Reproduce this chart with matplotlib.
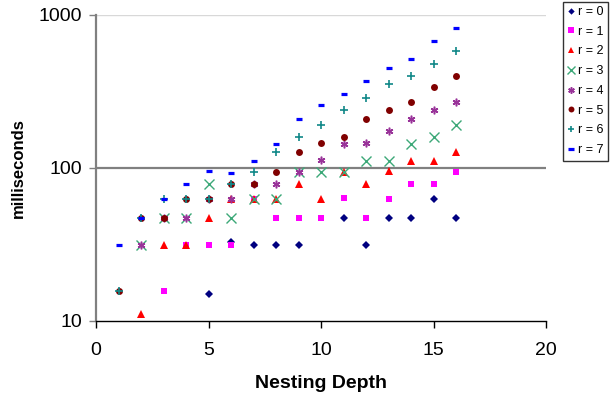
import numpy as np
import matplotlib
matplotlib.use("Agg")
import matplotlib.pyplot as plt

plt.rcParams['font.family'] = ['Liberation Sans', 'DejaVu Sans']

nan = np.nan
depth = list(range(1, 17))

r0 = [nan, nan, nan, nan, 15.0, 32.5, 31.25, 31.25, 31.25, nan, 46.9, 31.25, 46.9, 46.9, 62.5, 46.9]
r1 = [nan, nan, 15.6, 31.25, 31.25, 31.25, 62.5, 46.9, 46.9, 46.9, 63.5, 46.9, 62.5, 78.1, 78.1, 93.7]
r2 = [nan, 11.0, 31.25, 31.25, 46.9, 62.5, 62.5, 62.5, 78.1, 62.5, 93.7, 78.1, 94.5, 111, 111, 127]
r3 = [nan, 31.25, 46.9, 46.9, 78.1, 46.9, 62.5, 62.5, 93.7, 93.7, 93.7, 111, 111, 142, 158, 190]
r4 = [nan, 31.25, 46.9, 46.9, 62.5, 62.5, 78.1, 78.1, 93.7, 112, 143, 144, 174, 207, 238, 270]
r5 = [15.6, 46.9, 46.9, 62.5, 62.5, 78.1, 78.1, 93.7, 127, 144, 159, 207, 238, 270, 335, 399]
r6 = [15.6, 46.9, 62.5, 62.5, 62.5, 78.1, 93.7, 126, 158, 190, 239, 287, 351, 398, 476, 578]
r7 = [31.25, 46.9, 62.5, 78.1, 94.5, 93.0, 110, 142, 207, 255, 304, 366, 447, 512, 673, 815]

series = [r0, r1, r2, r3, r4, r5, r6, r7]
labels = ["r = 0", "r = 1", "r = 2", "r = 3", "r = 4", "r = 5", "r = 6", "r = 7"]

styles = [
    dict(marker='D', color='#000080', ms=3.8, mew=0),
    dict(marker='s', color='#FF00FF', ms=4.4, mew=0),
    dict(marker='^', color='#FF0000', ms=5.8, mew=0),
    dict(marker='x', color='#3CA878', ms=6.5, mew=1.0),
    dict(marker=(6, 2, 0), color='#993399', ms=5.5, mew=1.1),
    dict(marker='o', color='#800000', ms=5.0, mew=0),
    dict(marker='+', color='#108888', ms=5.8, mew=1.2),
    dict(marker='_', color='#0000FF', ms=4.3, mew=2.3),
]

fig = plt.figure(figsize=(6.10, 4.03), dpi=100)
ax = fig.add_axes([96/610, 1 - 320.7/403, (546-96)/610, (320.7-14.7)/403])

ax.axhline(1000, color='#d8d8d8', lw=1.0, zorder=1)
ax.axhline(100, color='#808080', lw=1.6, zorder=1)

handles = []
for vals, lab, st in zip(series, labels, styles):
    h, = ax.plot(depth, vals, linestyle='none', marker=st['marker'], color=st['color'],
                 markersize=st['ms'], markeredgewidth=st['mew'], label=lab, zorder=3,
                 clip_on=False)
    handles.append(h)

ax.set_yscale('log')
ax.set_ylim(10, 1000)
ax.set_xlim(0, 20)
ax.set_xticks([0, 5, 10, 15, 20])
ax.set_yticks([10, 100, 1000])
ax.set_yticklabels(['10', '100', '1000'])
ax.yaxis.set_minor_locator(matplotlib.ticker.NullLocator())

for s in ['top', 'right']:
    ax.spines[s].set_visible(False)
ax.spines['left'].set_color('#808080')
ax.spines['left'].set_linewidth(1.6)
ax.spines['bottom'].set_color('black')
ax.spines['bottom'].set_linewidth(1.0)

ax.tick_params(axis='y', direction='out', length=5, width=1, colors='#808080',
               labelcolor='black', labelsize=14, pad=5)
ax.tick_params(axis='x', direction='out', length=5, width=1, colors='black',
               labelsize=14, pad=10)

ax.set_xlabel('Nesting Depth', fontsize=14, fontweight='bold', labelpad=12)
ax.set_ylabel('milliseconds', fontsize=12, fontweight='bold', labelpad=9)

leg = fig.legend(handles=handles, labels=labels, loc='upper left',
                 bbox_to_anchor=(563/610, 1 - 1.5/403), fontsize=9,
                 frameon=True, fancybox=False, edgecolor='black',
                 borderpad=0.35, labelspacing=0.62, handlelength=0.6,
                 handletextpad=0.25, borderaxespad=0, markerscale=0.85)
leg.get_frame().set_linewidth(1.0)

fig.savefig('out.png', dpi=100)
